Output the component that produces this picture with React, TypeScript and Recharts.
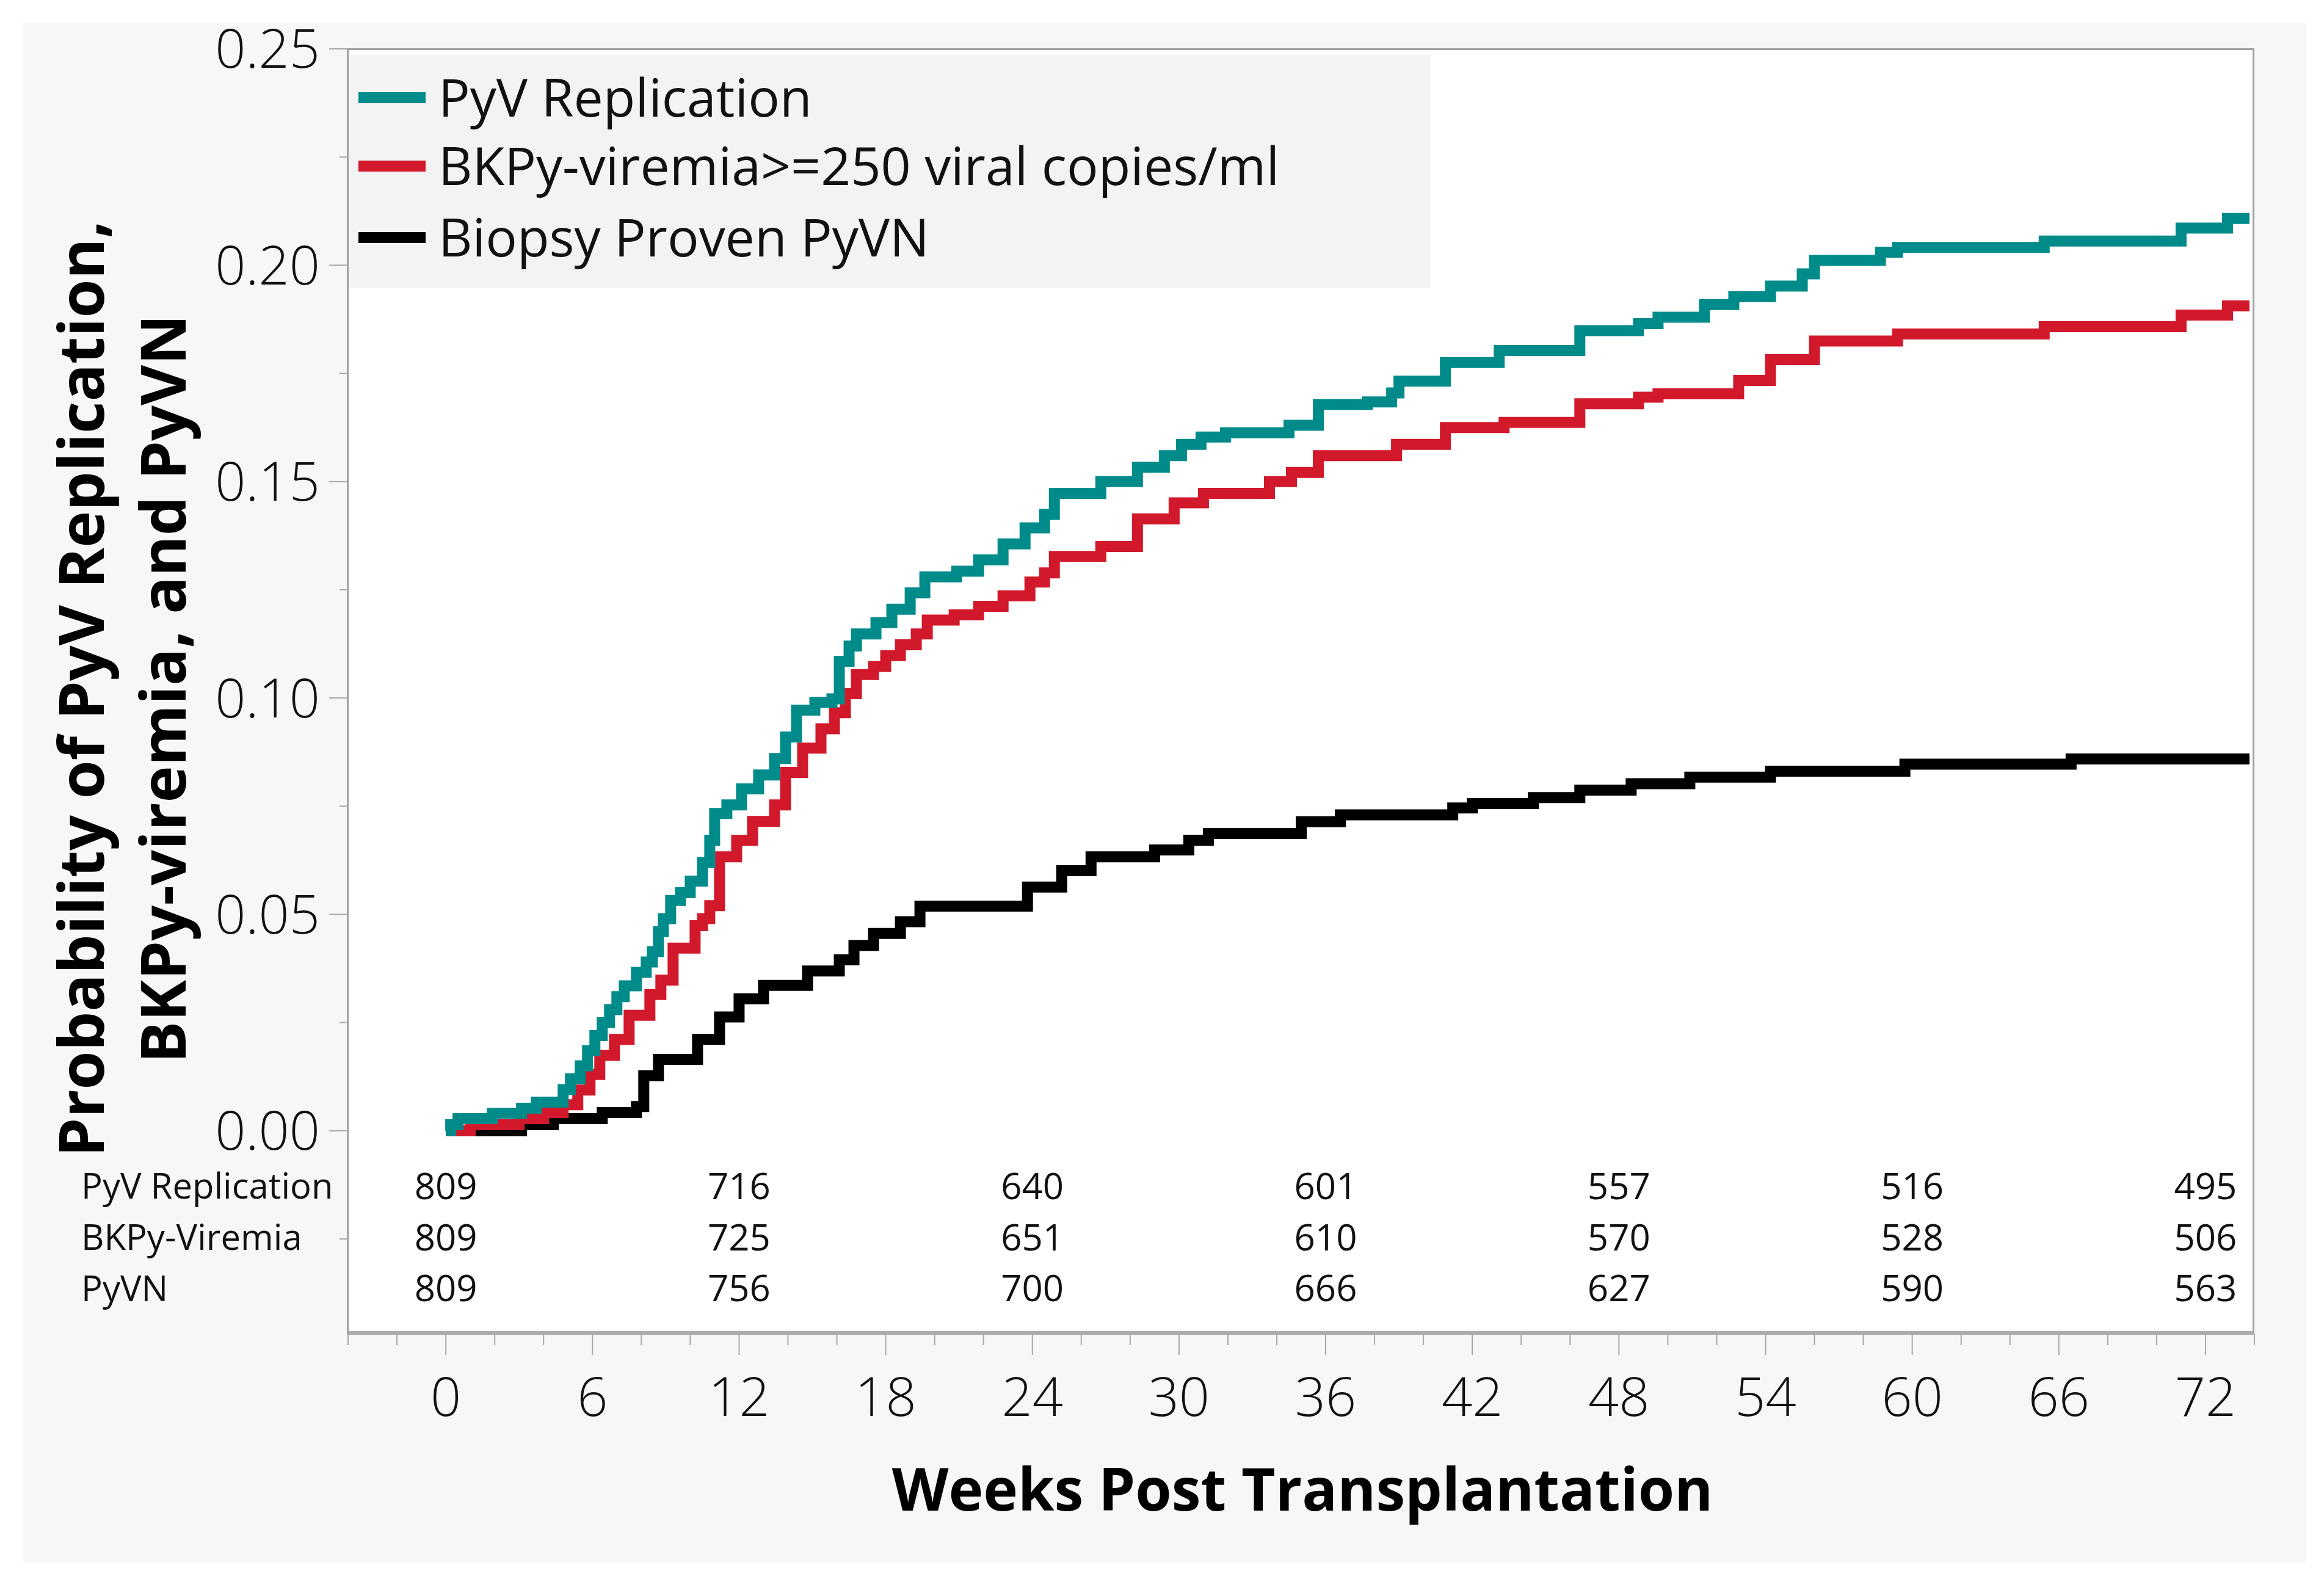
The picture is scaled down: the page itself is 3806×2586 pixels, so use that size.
import React from 'react';
import { ComposedChart, Line, Scatter, XAxis, YAxis } from 'recharts';

// ---------- data ----------
const pyvWeeks = [0, 0.2, 0.5, 1.9, 3.1, 3.7, 4.8, 5.1, 5.5, 5.8, 6.1, 6.4, 6.7, 7.0, 7.3, 7.8, 8.2, 8.45, 8.7, 8.9, 9.2, 9.6, 10.0, 10.5, 10.8, 11.0, 11.5, 12.1, 12.8, 13.45, 13.9, 14.35, 15.1, 15.8, 16.1, 16.5, 16.8, 17.6, 18.25, 19.0, 19.6, 20.9, 21.8, 22.8, 23.7, 24.5, 24.9, 26.8, 28.3, 29.4, 30.1, 30.9, 31.9, 34.5, 35.7, 37.7, 38.7, 39.0, 40.9, 43.1, 46.4, 48.8, 49.6, 51.5, 52.7, 54.2, 55.5, 56.0, 58.7, 59.4, 65.4, 71.0, 72.9, 73.8];
const pyvProb = [0, 0.0014, 0.0028, 0.004, 0.0052, 0.0066, 0.0095, 0.012, 0.015, 0.0185, 0.022, 0.025, 0.028, 0.031, 0.0335, 0.0366, 0.039, 0.0414, 0.046, 0.049, 0.0532, 0.055, 0.0577, 0.062, 0.0671, 0.0733, 0.0753, 0.079, 0.0822, 0.086, 0.091, 0.0972, 0.099, 0.0998, 0.1085, 0.112, 0.1148, 0.1174, 0.1205, 0.1243, 0.128, 0.1293, 0.1319, 0.1356, 0.1393, 0.1424, 0.1473, 0.15, 0.1533, 0.156, 0.1586, 0.1603, 0.1613, 0.163, 0.1678, 0.1684, 0.1705, 0.1732, 0.1775, 0.1803, 0.1849, 0.1865, 0.188, 0.1909, 0.1927, 0.1952, 0.198, 0.2011, 0.203, 0.2041, 0.2056, 0.2086, 0.2108, 0.2108];

const bkWeeks = [0, 1.0, 3.0, 4.0, 4.8, 5.4, 5.9, 6.3, 6.9, 7.5, 8.35, 8.8, 9.3, 10.2, 10.5, 10.8, 11.2, 11.9, 12.55, 13.45, 13.9, 14.6, 15.35, 15.9, 16.35, 16.8, 17.5, 18.0, 18.6, 19.25, 19.7, 20.8, 21.8, 22.8, 23.9, 24.5, 24.9, 26.8, 28.3, 29.8, 31.0, 33.7, 34.6, 35.7, 38.9, 40.9, 43.3, 46.4, 48.8, 49.6, 52.9, 54.2, 56.0, 59.4, 65.4, 71.0, 72.9, 73.8];
const bkProb = [0, 0.0014, 0.0028, 0.0042, 0.006, 0.0094, 0.013, 0.0174, 0.0211, 0.0267, 0.0315, 0.0348, 0.0422, 0.0474, 0.049, 0.052, 0.0633, 0.0671, 0.0715, 0.0753, 0.0828, 0.0884, 0.0929, 0.0966, 0.101, 0.1054, 0.1073, 0.1098, 0.1123, 0.1148, 0.118, 0.1192, 0.1212, 0.1236, 0.1268, 0.1289, 0.1327, 0.135, 0.1414, 0.1451, 0.1473, 0.15, 0.1521, 0.156, 0.1586, 0.1625, 0.1637, 0.168, 0.1695, 0.1703, 0.1734, 0.1782, 0.1825, 0.1841, 0.1858, 0.1885, 0.1906, 0.1906];

const pyvnWeeks = [0, 3.1, 4.4, 6.4, 7.8, 8.1, 8.7, 10.3, 11.2, 12.0, 13.0, 14.8, 16.1, 16.7, 17.5, 18.6, 19.4, 23.8, 25.2, 26.4, 29.0, 30.4, 31.2, 35.0, 36.6, 41.2, 42.0, 44.5, 46.4, 48.5, 50.9, 54.2, 59.7, 66.5, 73.8];
const pyvnProb = [0, 0.0014, 0.0028, 0.0042, 0.0056, 0.0127, 0.0165, 0.0211, 0.0263, 0.0305, 0.0336, 0.0369, 0.0395, 0.0428, 0.0456, 0.0483, 0.0519, 0.0563, 0.0601, 0.0633, 0.0649, 0.0671, 0.0687, 0.0714, 0.073, 0.0746, 0.0756, 0.077, 0.0787, 0.0802, 0.0817, 0.0831, 0.0847, 0.0859, 0.0859];

const riskWeeks = [0, 12, 24, 36, 48, 60, 72];
const riskPyv = [809, 716, 640, 601, 557, 516, 495];
const riskBk = [809, 725, 651, 610, 570, 528, 506];
const riskPyvn = [809, 756, 700, 666, 627, 590, 563];
const riskLabels = ['PyV Replication', 'BKPy-Viremia', 'PyVN'];

const legendLabels = ['PyV Replication', 'BKPy-viremia>=250 viral copies/ml', 'Biopsy Proven PyVN'];

const xTicks = [-4, -2, 0, 2, 4, 6, 8, 10, 12, 14, 16, 18, 20, 22, 24, 26, 28, 30, 32, 34, 36, 38, 40, 42, 44, 46, 48, 50, 52, 54, 56, 58, 60, 62, 64, 66, 68, 70, 72, 74];
const xLabelTicks = [0, 6, 12, 18, 24, 30, 36, 42, 48, 54, 60, 66, 72];
const yTicks = [-0.025, 0, 0.025, 0.05, 0.075, 0.1, 0.125, 0.15, 0.175, 0.2, 0.225, 0.25];
const yLabelTicks = [0, 0.05, 0.1, 0.15, 0.2, 0.25];

const xTitle = 'Weeks Post Transplantation';
const yTitleLines = ['Probability of PyV Replication,', 'BKPy-viremia, and PyVN'];

// ---------- style / layout ----------
const COLORS = ['#008b8b', '#d2192b', '#000000'];
const FONT = "'Open Sans', 'Noto Sans', sans-serif";
const RISK_ROW_POS = [-0.0128, -0.0246, -0.0364];

const zip = (w: number[], p: number[]) => w.map((x, i) => ({ w: x, p: p[i] }));
const pyvData = zip(pyvWeeks, pyvProb);
const bkData = zip(bkWeeks, bkProb);
const pyvnData = zip(pyvnWeeks, pyvnProb);

const riskRows = [riskPyv, riskBk, riskPyvn].map((vals, r) =>
  vals.map((n, i) => ({ w: riskWeeks[i], p: RISK_ROW_POS[r], n, label: riskLabels[r], first: i === 0 }))
);

const XTick = (props: any) => {
  const { x, y, payload } = props;
  const v = payload.value;
  const major = xLabelTicks.includes(v);
  return (
    <g>
      <line x1={x} x2={x} y1={y} y2={y + (major ? 34 : 18)} stroke="#a8a8a8" strokeWidth={2} />
      {major && (
        <text x={x} y={y + 134} textAnchor="middle" fontSize={88} fontFamily={FONT} fontWeight={300} fill="#111">
          {v}
        </text>
      )}
    </g>
  );
};

const YTick = (props: any) => {
  const { x, y, payload } = props;
  const v = payload.value;
  const major = yLabelTicks.some((t) => Math.abs(t - v) < 1e-9);
  return (
    <g>
      <line x1={x - (major ? 31 : 14)} x2={x} y1={y} y2={y} stroke="#a8a8a8" strokeWidth={2} />
      {major && (
        <text x={x - 46} y={y} dy="0.357em" textAnchor="end" fontSize={88} fontFamily={FONT} fontWeight={300} fill="#111">
          {v.toFixed(2)}
        </text>
      )}
    </g>
  );
};

const RiskCell = (props: any) => {
  const { cx, cy } = props;
  const d = props.payload ?? props;
  return (
    <g>
      {d.first && (
        <text x={133} y={cy} dy="0.357em" fontSize={58} fontFamily={FONT} fill="#111">
          {d.label}
        </text>
      )}
      <text x={cx} y={cy} dy="0.357em" textAnchor="middle" fontSize={60} fontFamily={FONT} fill="#111">
        {d.n}
      </text>
    </g>
  );
};

export default function App() {
  const W = 3806;
  const H = 2586;
  const legendRows = [160, 272, 389];
  return (
    <div style={{ position: 'absolute', left: 0, top: 0, width: W, height: H, background: '#ffffff', overflow: 'hidden', fontFamily: FONT }}>
      <div style={{ position: 'absolute', left: 37, top: 37, width: 3740, height: 2522, background: '#f7f7f7' }} />
      <div
        style={{
          position: 'absolute', left: 568, top: 79, width: 3124, height: 2107, background: '#ffffff', boxSizing: 'border-box',
          borderLeft: '3px solid #a0a0a0', borderTop: '3px solid #a0a0a0', borderRight: '3px solid #a0a0a0', borderBottom: '6px solid #ababab',
        }}
      />
      <div style={{ position: 'absolute', left: 571, top: 90, width: 1771, height: 382, background: '#f3f3f3' }} />

      <div style={{ position: 'absolute', left: 0, top: 0 }}>
        <ComposedChart width={W} height={H} margin={{ top: 80, right: 114, bottom: 251, left: 370 }}>
          <XAxis
            type="number" dataKey="w" domain={[-4, 74]} ticks={xTicks} interval={0}
            axisLine={false} tickLine={false} tickSize={0} tickMargin={0} height={150} tick={<XTick />}
          />
          <YAxis
            type="number" domain={[-0.047, 0.25]} ticks={yTicks} interval={0}
            axisLine={false} tickLine={false} tickSize={0} tickMargin={0} width={200} tick={<YTick />}
          />
          <Line data={pyvnData} dataKey="p" type="stepAfter" stroke={COLORS[2]} strokeWidth={18} dot={false} activeDot={false} isAnimationActive={false} />
          <Line data={bkData} dataKey="p" type="stepAfter" stroke={COLORS[1]} strokeWidth={18} dot={false} activeDot={false} isAnimationActive={false} />
          <Line data={pyvData} dataKey="p" type="stepAfter" stroke={COLORS[0]} strokeWidth={18} dot={false} activeDot={false} isAnimationActive={false} />
          {riskRows.map((rows, i) => (
            <Scatter key={i} data={rows} dataKey="p" shape={<RiskCell />} isAnimationActive={false} />
          ))}
        </ComposedChart>
      </div>

      <svg width={W} height={H} style={{ position: 'absolute', left: 0, top: 0, pointerEvents: 'none' }}>
        {legendLabels.map((lab, i) => (
          <g key={i}>
            <line x1={587} x2={697} y1={legendRows[i]} y2={legendRows[i]} stroke={COLORS[i]} strokeWidth={18} />
            <text x={718} y={legendRows[i]} dy="0.357em" fontSize={86} fontFamily={FONT} fill="#111">
              {lab}
            </text>
          </g>
        ))}
        <text x={2133} y={2440} dy="0.357em" textAnchor="middle" fontSize={96} fontWeight={700} fontFamily={FONT} fill="#000">
          {xTitle}
        </text>
        {yTitleLines.map((t, i) => (
          <text
            key={i}
            transform={`translate(${134 + i * 134}, 1128) rotate(-90)`}
            dy="0.357em" textAnchor="middle" fontSize={102} fontWeight={700} fontFamily={FONT} fill="#000"
          >
            {t}
          </text>
        ))}
      </svg>
    </div>
  );
}
